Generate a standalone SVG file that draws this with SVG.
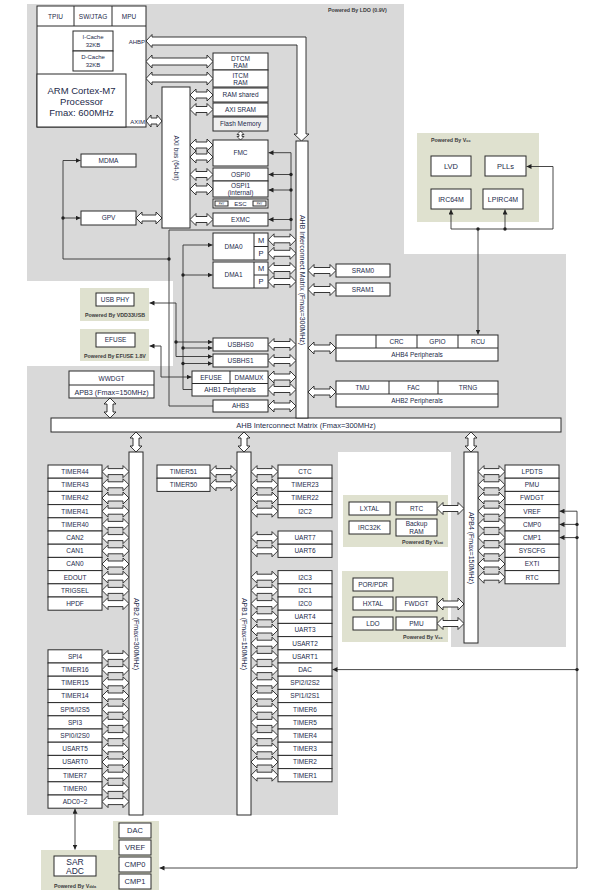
<svg xmlns="http://www.w3.org/2000/svg" width="598" height="893" viewBox="0 0 598 893">
<defs>
<style>
.bg{fill:#d9d9d9}
.gp{fill:#dfe1cf}
.b{fill:#fff;stroke:#2a2a2a;stroke-width:1}
.f{fill:#efefef;stroke:#2a2a2a;stroke-width:1}
.l{fill:none;stroke:#2a2a2a;stroke-width:1}
.w{fill:none;stroke:#333;stroke-width:0.9}
.ba{fill:#fff;stroke:#222;stroke-width:0.9}
.d{fill:#222}
text{font-family:"Liberation Sans",Arial,sans-serif;fill:#1d2a4a;text-anchor:middle}
.t{font-size:6.5px}
.s{font-size:6px}
.m{font-size:7.5px}
.g{font-size:8.5px}
.x{font-size:2.6px}
.p{font-size:5.3px;font-weight:bold;fill:#3b3b3b}
.ps{text-anchor:start}
.bus{font-size:7px}
</style>
<marker id="ah" viewBox="0 0 8 8" refX="8" refY="4" markerWidth="5" markerHeight="5" markerUnits="userSpaceOnUse" orient="auto-start-reverse"><path d="M0,0 L8,4 L0,8 Z" fill="#222"/></marker>
<path id="h67" d="M0,0 L6,-6.5 L6,-3.5 L61,-3.5 L61,-6.5 L67,0 L61,6.5 L61,3.5 L6,3.5 L6,6.5 Z" fill="#fff" stroke="#222" stroke-width="0.9"/>
<path id="h28" d="M0,0 L6,-6 L6,-3 L22,-3 L22,-6 L28,0 L22,6 L22,3 L6,3 L6,6 Z" fill="#fff" stroke="#222" stroke-width="0.9"/>
<path id="h27" d="M0,0 L6,-6 L6,-3 L21,-3 L21,-6 L27,0 L21,6 L21,3 L6,3 L6,6 Z" fill="#fff" stroke="#222" stroke-width="0.9"/>
<path id="h26" d="M0,0 L6,-6 L6,-3 L20,-3 L20,-6 L26,0 L20,6 L20,3 L6,3 L6,6 Z" fill="#fff" stroke="#222" stroke-width="0.9"/>
<path id="h23" d="M0,0 L6,-6 L6,-3 L17,-3 L17,-6 L23,0 L17,6 L17,3 L6,3 L6,6 Z" fill="#fff" stroke="#222" stroke-width="0.9"/>
<path id="h16" d="M0,0 L5,-6 L5,-3 L11,-3 L11,-6 L16,0 L11,6 L11,3 L5,3 L5,6 Z" fill="#fff" stroke="#222" stroke-width="0.9"/>
<path id="v20" d="M0,0 L6,6 L3,6 L3,14 L6,14 L0,20 L-6,14 L-3,14 L-3,6 L-6,6 Z" fill="#fff" stroke="#222" stroke-width="0.9"/>
<path id="v9" d="M0,0 L3.5,3.5 L1.5,3.5 L1.5,5.5 L3.5,5.5 L0,9 L-3.5,5.5 L-1.5,5.5 L-1.5,3.5 L-3.5,3.5 Z" fill="#fff" stroke="#222" stroke-width="0.8"/>
</defs>
<rect width="598" height="893" fill="#fff"/>
<path class="bg" d="M27,4 H404 V254 H566 V647 H451 V452 H338 V815 H27 V366 H173 V281 H27 Z"/>
<text class="p ps" x="328" y="12">Powered By LDO (0.9V)</text>

<g id="panel-vcc-top"><rect class="gp" x="417" y="133" width="122" height="89"/><text class="p ps" x="431" y="141.5">Powered By V<tspan font-size="3.8">cc</tspan></text></g>
<g id="panel-usbphy"><rect class="gp" x="80" y="288" width="69" height="33"/><text class="p" x="115" y="316.5">Powered By VDD33USB</text></g>
<g id="panel-efuse"><rect class="gp" x="80" y="329" width="69" height="32"/><text class="p" x="115" y="357.5">Powered By EFUSE 1.8V</text></g>
<g id="panel-vbat"><rect class="gp" x="343" y="495" width="105" height="52"/><text class="p ps" x="402" y="543.5">Powered By V<tspan font-size="3.8">bat</tspan></text></g>
<g id="panel-vcc-mid"><rect class="gp" x="342" y="571" width="106" height="71"/><text class="p ps" x="403" y="638.5">Powered By V<tspan font-size="3.8">cc</tspan></text></g>
<g id="panel-vdda"><path class="gp" d="M113,821 H159 V890 H41 V850 H113 Z"/><text class="p" x="75" y="888">Powered By V<tspan font-size="3.8">dda</tspan></text></g>

<g id="connectors">
<path class="ba" d="M146,41 L152,34.5 L152,37 L306,37 L306,134 L309,134 L301.5,141 L294,134 L297,134 L297,45 L152,45 L152,47.5 Z"/>
<use href="#h67" x="146" y="61.5"/>
<use href="#h67" x="146" y="78.5"/>
<use href="#h16" x="146" y="121"/>
<use href="#h26" x="136" y="218"/>
<use href="#h23" x="190" y="95"/>
<use href="#h23" x="190" y="109.5"/>
<use href="#h23" x="190" y="145"/>
<use href="#h23" x="190" y="157"/>
<use href="#h23" x="190" y="174.5"/>
<use href="#h23" x="190" y="189"/>
<use href="#h23" x="190" y="219.5"/>
<use href="#v9" x="240.5" y="131"/>
<use href="#h28" x="268" y="239.8"/>
<use href="#h28" x="268" y="253.3"/>
<use href="#h28" x="268" y="268.5"/>
<use href="#h28" x="268" y="281.5"/>
<use href="#h28" x="268" y="344.5"/>
<use href="#h28" x="268" y="360.5"/>
<use href="#h28" x="268" y="377"/>
<use href="#h28" x="268" y="389.5"/>
<use href="#h28" x="268" y="406"/>
<use href="#h28" x="308" y="270.5"/>
<use href="#h28" x="308" y="289.5"/>
<use href="#h28" x="308" y="348"/>
<use href="#h28" x="308" y="392"/>
<use href="#v20" x="110" y="398"/>
<use href="#v20" x="136" y="432"/>
<use href="#v20" x="244" y="432"/>
<use href="#v20" x="471" y="432"/>
<use href="#h27" x="102" y="471.6"/><use href="#h27" x="102" y="484.8"/><use href="#h27" x="102" y="498"/><use href="#h27" x="102" y="511.2"/><use href="#h27" x="102" y="524.4"/><use href="#h27" x="102" y="537.6"/><use href="#h27" x="102" y="550.8"/><use href="#h27" x="102" y="564"/><use href="#h27" x="102" y="577.2"/><use href="#h27" x="102" y="590.4"/><use href="#h27" x="102" y="603.6"/>
<use href="#h27" x="102" y="656.4"/><use href="#h27" x="102" y="669.6"/><use href="#h27" x="102" y="682.8"/><use href="#h27" x="102" y="696"/><use href="#h27" x="102" y="709.2"/><use href="#h27" x="102" y="722.4"/><use href="#h27" x="102" y="735.6"/><use href="#h27" x="102" y="748.8"/><use href="#h27" x="102" y="762"/><use href="#h27" x="102" y="775.2"/><use href="#h27" x="102" y="788.4"/><use href="#h27" x="102" y="801.6"/>
<use href="#h27" x="210" y="471.6"/><use href="#h27" x="210" y="484.8"/>
<use href="#h27" x="251" y="471.6"/><use href="#h27" x="251" y="484.8"/><use href="#h27" x="251" y="498"/><use href="#h27" x="251" y="511.2"/>
<use href="#h27" x="251" y="537.6"/><use href="#h27" x="251" y="550.8"/>
<use href="#h27" x="251" y="577.2"/><use href="#h27" x="251" y="590.4"/><use href="#h27" x="251" y="603.6"/><use href="#h27" x="251" y="616.8"/><use href="#h27" x="251" y="630"/><use href="#h27" x="251" y="643.2"/><use href="#h27" x="251" y="656.4"/><use href="#h27" x="251" y="669.6"/><use href="#h27" x="251" y="682.8"/><use href="#h27" x="251" y="696"/><use href="#h27" x="251" y="709.2"/><use href="#h27" x="251" y="722.4"/><use href="#h27" x="251" y="735.6"/><use href="#h27" x="251" y="748.8"/><use href="#h27" x="251" y="762"/><use href="#h27" x="251" y="775.2"/>
<use href="#h27" x="478" y="471.6"/><use href="#h27" x="478" y="484.8"/><use href="#h27" x="478" y="498"/><use href="#h27" x="478" y="511.2"/><use href="#h27" x="478" y="524.4"/><use href="#h27" x="478" y="537.6"/><use href="#h27" x="478" y="550.8"/><use href="#h27" x="478" y="564"/><use href="#h27" x="478" y="577.2"/>
<use href="#h27" x="437" y="508.5"/><use href="#h27" x="437" y="604"/><use href="#h27" x="437" y="623.5"/>

<path class="w" d="M169,259 H63 V160.5 H80.5" marker-end="url(#ah)"/>
<path class="w" d="M63,218 H80.5" marker-end="url(#ah)"/>
<path class="w" d="M213,406 H169 V230 H291 V152.7 H268.5" marker-end="url(#ah)"/>
<path class="w" d="M291,174.5 H268.5" marker-end="url(#ah)"/>
<path class="w" d="M291,190 H268.5" marker-end="url(#ah)"/>
<path class="w" d="M291,219.5 H268.5" marker-end="url(#ah)"/>
<path class="w" d="M192,389.5 H183 V245 H212.5" marker-end="url(#ah)"/>
<path class="w" d="M183,275 H212.5" marker-end="url(#ah)"/>
<path class="w" d="M183,348 H212.5" marker-end="url(#ah)"/>
<path class="w" d="M183,363.5 H212.5" marker-end="url(#ah)"/>
<path class="w" d="M212.5,356.5 H176 V303 H149.5" marker-start="url(#ah)" marker-end="url(#ah)"/>
<path class="w" d="M176,342 H212.5" marker-end="url(#ah)"/>
<path class="w" d="M191.5,377 H161 V346 H149.5" marker-start="url(#ah)" marker-end="url(#ah)"/>
<path class="w" d="M478,229 V334.5" marker-end="url(#ah)"/>
<path class="w" d="M451,209.5 V229 H553 V166.5 H526.5" marker-start="url(#ah)" marker-end="url(#ah)"/>
<path class="w" d="M505,229 V209.5" marker-end="url(#ah)"/>
<path class="w" d="M559.5,511.2 H577 V868 H159.5" marker-start="url(#ah)" marker-end="url(#ah)" stroke-width="1.1"/>
<path class="w" d="M577,524.4 H559.5" marker-end="url(#ah)"/>
<path class="w" d="M577,537.6 H559.5" marker-end="url(#ah)"/>
<path class="w" d="M577,669.6 H332.5" marker-end="url(#ah)" stroke-width="1.1"/>
<path class="w" d="M75,808.7 V849.5" marker-start="url(#ah)" marker-end="url(#ah)" stroke-width="1.1"/>
<circle class="d" cx="63" cy="218" r="1.7"/><circle class="d" cx="169" cy="259" r="1.7"/>
<circle class="d" cx="291" cy="174.5" r="1.7"/><circle class="d" cx="291" cy="190" r="1.7"/><circle class="d" cx="291" cy="219.5" r="1.7"/>
<circle class="d" cx="183" cy="275" r="1.7"/><circle class="d" cx="183" cy="348" r="1.7"/><circle class="d" cx="183" cy="363.5" r="1.7"/><circle class="d" cx="176" cy="342" r="1.7"/>
<circle class="d" cx="478" cy="229" r="1.7"/><circle class="d" cx="505" cy="229" r="1.7"/>
<circle class="d" cx="577" cy="524.4" r="1.7"/><circle class="d" cx="577" cy="537.6" r="1.7"/><circle class="d" cx="577" cy="669.6" r="1.7"/>
</g>

<g id="cpu">
<rect class="b" x="37" y="6" width="109" height="121"/>
<path class="l" d="M37,26 H146 M74,6 V26 M112,6 V26"/>
<rect class="b" x="37" y="74" width="89" height="53"/>
<rect class="b" x="73" y="31" width="40" height="20"/>
<rect class="b" x="73" y="51" width="40" height="20"/>
<text class="t" x="55.5" y="18.5">TPIU</text><text class="t" x="93" y="18.5">SW/JTAG</text><text class="t" x="129" y="18.5">MPU</text>
<text class="s" x="93" y="39">I-Cache</text><text class="s" x="93" y="47">32KB</text>
<text class="s" x="93" y="59">D-Cache</text><text class="s" x="93" y="67">32KB</text>
<text x="81.5" y="94" font-size="9.5">ARM Cortex-M7</text>
<text x="81.5" y="105" font-size="9.5">Processor</text>
<text x="81.5" y="116" font-size="9.5">Fmax: 600MHz</text>
<text class="s" x="145" y="44" style="text-anchor:end">AHBP</text>
<text class="s" x="145" y="124" style="text-anchor:end">AXIM</text>
</g>
<g id="axi-bus"><rect class="b" x="162" y="87" width="28" height="141"/><text class="t" transform="translate(176,158) rotate(90)" dy="0.35em">AXI bus (64-bit)</text></g>
<g id="mdma"><rect class="b" x="81" y="154" width="55" height="13"/><text class="t" x="108.5" y="162.8">MDMA</text></g>
<g id="gpv"><rect class="b" x="81" y="211" width="55" height="14"/><text class="t" x="108.5" y="220.3">GPV</text></g>
<g id="dtcm"><rect class="b" x="213" y="53" width="55" height="17"/><text class="t" x="240.5" y="60.5">DTCM</text><text class="t" x="240.5" y="67.5">RAM</text></g>
<g id="itcm"><rect class="b" x="213" y="70" width="55" height="17"/><text class="t" x="240.5" y="77.5">ITCM</text><text class="t" x="240.5" y="84.5">RAM</text></g>
<g id="ram-shared"><rect class="b" x="213" y="88" width="55" height="14"/><text class="t" x="240.5" y="97.3">RAM shared</text></g>
<g id="axi-sram"><rect class="b" x="213" y="103" width="55" height="13"/><text class="t" x="240.5" y="111.8">AXI SRAM</text></g>
<g id="flash"><rect class="f" x="213" y="117" width="55" height="14"/><text class="t" x="240.5" y="126.3">Flash Memory</text></g>
<g id="fmc"><rect class="b" x="213" y="140" width="55" height="26"/><text class="t" x="240.5" y="155.3">FMC</text></g>
<g id="ospi0"><rect class="b" x="213" y="168" width="55" height="13"/><text class="t" x="240.5" y="176.8">OSPI0</text></g>
<g id="ospi1"><rect class="b" x="213" y="181" width="55" height="16"/><text class="t" x="240.5" y="188">OSPI1</text><text class="t" x="240.5" y="195">(internal)</text></g>
<g id="esc"><rect class="b" x="213" y="199" width="55" height="9"/><rect class="b" x="215" y="201" width="13" height="5" stroke-width="0.6"/><rect class="b" x="253" y="201" width="13" height="5" stroke-width="0.6"/><text class="x" x="221.5" y="204.5">PHY</text><text class="x" x="259.5" y="204.5">PHY</text><text class="s" x="240.5" y="206.2">ESC</text></g>
<g id="exmc"><rect class="b" x="213" y="213" width="55" height="13"/><text class="t" x="240.5" y="221.8">EXMC</text></g>
<g id="dma0"><rect class="b" x="213" y="233" width="55" height="27"/><path class="l" d="M254,233 V260 M254,246.5 H268"/><text class="t" x="233.5" y="248.8">DMA0</text><text x="261" y="242.6" font-size="7.5">M</text><text x="261" y="256" font-size="7.5">P</text></g>
<g id="dma1"><rect class="b" x="213" y="262" width="55" height="26"/><path class="l" d="M254,262 V288 M254,275 H268"/><text class="t" x="233.5" y="277.3">DMA1</text><text x="261" y="271.3" font-size="7.5">M</text><text x="261" y="284.3" font-size="7.5">P</text></g>
<g id="usbhs0"><rect class="b" x="213" y="338" width="55" height="13"/><text class="t" x="240.5" y="346.8">USBHS0</text></g>
<g id="usbhs1"><rect class="b" x="213" y="354" width="55" height="13"/><text class="t" x="240.5" y="362.8">USBHS1</text></g>
<g id="ahb1"><rect class="b" x="192" y="371" width="76" height="25"/><path class="l" d="M192,383.5 H268 M230,371 V383.5"/><text class="t" x="211" y="379.7">EFUSE</text><text class="t" x="249" y="379.7">DMAMUX</text><text class="t" x="230" y="392.2">AHB1 Peripherals</text></g>
<g id="ahb3"><rect class="b" x="213" y="400" width="55" height="12"/><text class="t" x="240.5" y="408.3">AHB3</text></g>
<g id="usb-phy"><rect class="b" x="96" y="293" width="38" height="13"/><text class="t" x="115" y="302">USB PHY</text></g>
<g id="efuse"><rect class="b" x="96" y="333" width="39" height="14"/><text class="t" x="115.5" y="342.3">EFUSE</text></g>
<g id="apb3"><rect class="b" x="69" y="371" width="85" height="27"/><path class="l" d="M69,385 H154"/><text class="t" x="111.5" y="380.7">WWDGT</text><text x="111.5" y="394.5" font-size="7.2">APB3 (Fmax=150MHz)</text></g>
<g id="sram0"><rect class="b" x="336" y="264" width="54" height="13"/><text class="t" x="363" y="272.8">SRAM0</text></g>
<g id="sram1"><rect class="b" x="336" y="283" width="54" height="13"/><text class="t" x="363" y="291.8">SRAM1</text></g>
<g id="ahb4"><rect class="b" x="336" y="335" width="162" height="26"/><path class="l" d="M336,348 H498 M376,335 V348 M417,335 V348 M458,335 V348"/><text class="t" x="396.5" y="344">CRC</text><text class="t" x="437.5" y="344">GPIO</text><text class="t" x="478" y="344">RCU</text><text class="t" x="417" y="357.2">AHB4 Peripherals</text></g>
<g id="ahb2"><rect class="b" x="336" y="381" width="162" height="26"/><path class="l" d="M336,394 H498 M389,381 V394 M438,381 V394"/><text class="t" x="362.5" y="390">TMU</text><text class="t" x="413.5" y="390">FAC</text><text class="t" x="468" y="390">TRNG</text><text class="t" x="417" y="403.2">AHB2 Peripherals</text></g>
<g id="ahb-matrix-h"><rect class="b" x="51" y="418" width="510" height="14"/><text x="306" y="427.8" font-size="7.5">AHB Interconnect Matrix (Fmax=300MHz)</text></g>
<g id="ahb-matrix-v"><rect class="b" x="296" y="141" width="12" height="277"/><text class="bus" transform="translate(302,280) rotate(90)" dy="0.35em">AHB Interconnect Matrix (Fmax=300MHz)</text></g>
<g id="lvd"><rect class="b" x="431" y="156" width="40" height="20"/><text class="m" x="451" y="168.8">LVD</text></g>
<g id="plls"><rect class="b" x="485" y="156" width="41" height="20"/><text class="m" x="505.5" y="168.8">PLLs</text></g>
<g id="irc64m"><rect class="b" x="431" y="189" width="40" height="20"/><text x="451" y="201.7" font-size="7">IRC64M</text></g>
<g id="lpirc4m"><rect class="b" x="483" y="189" width="40" height="20"/><text x="503" y="201.7" font-size="7">LPIRC4M</text></g>
<g id="apb2"><rect class="b" x="129" y="452" width="14" height="363"/><text class="bus" transform="translate(136,634) rotate(90)" dy="0.35em">APB2 (Fmax=300MHz)</text></g>
<g id="apb1"><rect class="b" x="237" y="452" width="14" height="363"/><text class="bus" transform="translate(244,634) rotate(90)" dy="0.35em">APB1 (Fmax=150MHz)</text></g>
<g id="apb4"><rect class="b" x="464" y="452" width="14" height="191"/><text class="bus" transform="translate(471,548) rotate(90)" dy="0.35em">APB4 (Fmax=150MHz)</text></g>

<g id="apb2-timer44"><rect class="b" x="48" y="465" width="54" height="13.2"/><text class="t" x="75" y="473.9">TIMER44</text></g>
<g id="apb2-timer43"><rect class="b" x="48" y="478.2" width="54" height="13.2"/><text class="t" x="75" y="487.1">TIMER43</text></g>
<g id="apb2-timer42"><rect class="b" x="48" y="491.4" width="54" height="13.2"/><text class="t" x="75" y="500.3">TIMER42</text></g>
<g id="apb2-timer41"><rect class="b" x="48" y="504.6" width="54" height="13.2"/><text class="t" x="75" y="513.5">TIMER41</text></g>
<g id="apb2-timer40"><rect class="b" x="48" y="517.8" width="54" height="13.2"/><text class="t" x="75" y="526.7">TIMER40</text></g>
<g id="apb2-can2"><rect class="b" x="48" y="531" width="54" height="13.2"/><text class="t" x="75" y="539.9">CAN2</text></g>
<g id="apb2-can1"><rect class="b" x="48" y="544.2" width="54" height="13.2"/><text class="t" x="75" y="553.1">CAN1</text></g>
<g id="apb2-can0"><rect class="b" x="48" y="557.4" width="54" height="13.2"/><text class="t" x="75" y="566.3">CAN0</text></g>
<g id="apb2-edout"><rect class="b" x="48" y="570.6" width="54" height="13.2"/><text class="t" x="75" y="579.5">EDOUT</text></g>
<g id="apb2-trigsel"><rect class="b" x="48" y="583.8" width="54" height="13.2"/><text class="t" x="75" y="592.7">TRIGSEL</text></g>
<g id="apb2-hpdf"><rect class="b" x="48" y="597" width="54" height="13.2"/><text class="t" x="75" y="605.9">HPDF</text></g>
<g id="apb2-spi4"><rect class="b" x="48" y="649.8" width="54" height="13.2"/><text class="t" x="75" y="658.7">SPI4</text></g>
<g id="apb2-timer16"><rect class="b" x="48" y="663" width="54" height="13.2"/><text class="t" x="75" y="671.9">TIMER16</text></g>
<g id="apb2-timer15"><rect class="b" x="48" y="676.2" width="54" height="13.2"/><text class="t" x="75" y="685.1">TIMER15</text></g>
<g id="apb2-timer14"><rect class="b" x="48" y="689.4" width="54" height="13.2"/><text class="t" x="75" y="698.3">TIMER14</text></g>
<g id="apb2-spi5"><rect class="b" x="48" y="702.6" width="54" height="13.2"/><text class="t" x="75" y="711.5">SPI5/I2S5</text></g>
<g id="apb2-spi3"><rect class="b" x="48" y="715.8" width="54" height="13.2"/><text class="t" x="75" y="724.7">SPI3</text></g>
<g id="apb2-spi0"><rect class="b" x="48" y="729" width="54" height="13.2"/><text class="t" x="75" y="737.9">SPI0/I2S0</text></g>
<g id="apb2-usart5"><rect class="b" x="48" y="742.2" width="54" height="13.2"/><text class="t" x="75" y="751.1">USART5</text></g>
<g id="apb2-usart0"><rect class="b" x="48" y="755.4" width="54" height="13.2"/><text class="t" x="75" y="764.3">USART0</text></g>
<g id="apb2-timer7"><rect class="b" x="48" y="768.6" width="54" height="13.2"/><text class="t" x="75" y="777.5">TIMER7</text></g>
<g id="apb2-timer0"><rect class="b" x="48" y="781.8" width="54" height="13.2"/><text class="t" x="75" y="790.7">TIMER0</text></g>
<g id="apb2-adc"><rect class="b" x="48" y="795" width="54" height="13.2"/><text class="t" x="75" y="803.9">ADC0~2</text></g>

<g id="apb1-timer51"><rect class="b" x="157" y="465" width="53" height="13.2"/><text class="t" x="183.5" y="473.9">TIMER51</text></g>
<g id="apb1-timer50"><rect class="b" x="157" y="478.2" width="53" height="13.2"/><text class="t" x="183.5" y="487.1">TIMER50</text></g>
<g id="apb1-ctc"><rect class="b" x="278" y="465" width="54" height="13.2"/><text class="t" x="305" y="473.9">CTC</text></g>
<g id="apb1-timer23"><rect class="b" x="278" y="478.2" width="54" height="13.2"/><text class="t" x="305" y="487.1">TIMER23</text></g>
<g id="apb1-timer22"><rect class="b" x="278" y="491.4" width="54" height="13.2"/><text class="t" x="305" y="500.3">TIMER22</text></g>
<g id="apb1-i2c2"><rect class="b" x="278" y="504.6" width="54" height="13.2"/><text class="t" x="305" y="513.5">I2C2</text></g>
<g id="apb1-uart7"><rect class="b" x="278" y="531" width="54" height="13.2"/><text class="t" x="305" y="539.9">UART7</text></g>
<g id="apb1-uart6"><rect class="b" x="278" y="544.2" width="54" height="13.2"/><text class="t" x="305" y="553.1">UART6</text></g>
<g id="apb1-i2c3"><rect class="b" x="278" y="570.6" width="54" height="13.2"/><text class="t" x="305" y="579.5">I2C3</text></g>
<g id="apb1-i2c1"><rect class="b" x="278" y="583.8" width="54" height="13.2"/><text class="t" x="305" y="592.7">I2C1</text></g>
<g id="apb1-i2c0"><rect class="b" x="278" y="597" width="54" height="13.2"/><text class="t" x="305" y="605.9">I2C0</text></g>
<g id="apb1-uart4"><rect class="b" x="278" y="610.2" width="54" height="13.2"/><text class="t" x="305" y="619.1">UART4</text></g>
<g id="apb1-uart3"><rect class="b" x="278" y="623.4" width="54" height="13.2"/><text class="t" x="305" y="632.3">UART3</text></g>
<g id="apb1-usart2"><rect class="b" x="278" y="636.6" width="54" height="13.2"/><text class="t" x="305" y="645.5">USART2</text></g>
<g id="apb1-usart1"><rect class="b" x="278" y="649.8" width="54" height="13.2"/><text class="t" x="305" y="658.7">USART1</text></g>
<g id="apb1-dac"><rect class="b" x="278" y="663" width="54" height="13.2"/><text class="t" x="305" y="671.9">DAC</text></g>
<g id="apb1-spi2"><rect class="b" x="278" y="676.2" width="54" height="13.2"/><text class="t" x="305" y="685.1">SPI2/I2S2</text></g>
<g id="apb1-spi1"><rect class="b" x="278" y="689.4" width="54" height="13.2"/><text class="t" x="305" y="698.3">SPI1/I2S1</text></g>
<g id="apb1-timer6"><rect class="b" x="278" y="702.6" width="54" height="13.2"/><text class="t" x="305" y="711.5">TIMER6</text></g>
<g id="apb1-timer5"><rect class="b" x="278" y="715.8" width="54" height="13.2"/><text class="t" x="305" y="724.7">TIMER5</text></g>
<g id="apb1-timer4"><rect class="b" x="278" y="729" width="54" height="13.2"/><text class="t" x="305" y="737.9">TIMER4</text></g>
<g id="apb1-timer3"><rect class="b" x="278" y="742.2" width="54" height="13.2"/><text class="t" x="305" y="751.1">TIMER3</text></g>
<g id="apb1-timer2"><rect class="b" x="278" y="755.4" width="54" height="13.2"/><text class="t" x="305" y="764.3">TIMER2</text></g>
<g id="apb1-timer1"><rect class="b" x="278" y="768.6" width="54" height="13.2"/><text class="t" x="305" y="777.5">TIMER1</text></g>

<g id="apb4-lpdts"><rect class="b" x="505" y="465" width="54" height="13.2"/><text class="t" x="532" y="473.9">LPDTS</text></g>
<g id="apb4-pmu"><rect class="b" x="505" y="478.2" width="54" height="13.2"/><text class="t" x="532" y="487.1">PMU</text></g>
<g id="apb4-fwdgt"><rect class="b" x="505" y="491.4" width="54" height="13.2"/><text class="t" x="532" y="500.3">FWDGT</text></g>
<g id="apb4-vref"><rect class="b" x="505" y="504.6" width="54" height="13.2"/><text class="t" x="532" y="513.5">VREF</text></g>
<g id="apb4-cmp0"><rect class="b" x="505" y="517.8" width="54" height="13.2"/><text class="t" x="532" y="526.7">CMP0</text></g>
<g id="apb4-cmp1"><rect class="b" x="505" y="531" width="54" height="13.2"/><text class="t" x="532" y="539.9">CMP1</text></g>
<g id="apb4-syscfg"><rect class="b" x="505" y="544.2" width="54" height="13.2"/><text class="t" x="532" y="553.1">SYSCFG</text></g>
<g id="apb4-exti"><rect class="b" x="505" y="557.4" width="54" height="13.2"/><text class="t" x="532" y="566.3">EXTI</text></g>
<g id="apb4-rtc"><rect class="b" x="505" y="570.6" width="54" height="13.2"/><text class="t" x="532" y="579.5">RTC</text></g>

<g id="lxtal"><rect class="b" x="349" y="502" width="41" height="13"/><text class="t" x="369.5" y="510.8">LXTAL</text></g>
<g id="irc32k"><rect class="b" x="349" y="521" width="41" height="13"/><text class="t" x="369.5" y="529.8">IRC32K</text></g>
<g id="rtc-vbat"><rect class="b" x="396" y="502" width="41" height="13"/><text class="t" x="416.5" y="510.8">RTC</text></g>
<g id="backup-ram"><rect class="b" x="396" y="519" width="41" height="17"/><text class="t" x="416.5" y="526.3">Backup</text><text class="t" x="416.5" y="533.5">RAM</text></g>
<g id="por-pdr"><rect class="b" x="353" y="578" width="40" height="13"/><text class="t" x="373" y="586.8">POR/PDR</text></g>
<g id="hxtal"><rect class="b" x="353" y="597" width="40" height="13"/><text class="t" x="373" y="605.8">HXTAL</text></g>
<g id="ldo"><rect class="b" x="353" y="617" width="40" height="13"/><text class="t" x="373" y="625.8">LDO</text></g>
<g id="fwdgt-vcc"><rect class="b" x="396" y="597" width="41" height="14"/><text class="t" x="416.5" y="606.3">FWDGT</text></g>
<g id="pmu-vcc"><rect class="b" x="396" y="617" width="41" height="13"/><text class="t" x="416.5" y="625.8">PMU</text></g>

<g id="dac-a"><rect class="b" x="119" y="823" width="32" height="15"/><text class="m" x="135" y="833.3">DAC</text></g>
<g id="vref-a"><rect class="b" x="119" y="840" width="32" height="15"/><text class="m" x="135" y="850.3">VREF</text></g>
<g id="cmp0-a"><rect class="b" x="119" y="857" width="32" height="15"/><text class="m" x="135" y="867.3">CMP0</text></g>
<g id="cmp1-a"><rect class="b" x="119" y="874" width="32" height="15"/><text class="m" x="135" y="884.3">CMP1</text></g>
<g id="sar-adc"><rect class="b" x="54" y="856" width="42" height="20"/><text class="g" x="75" y="864.8">SAR</text><text class="g" x="75" y="873.8">ADC</text></g>
</svg>
